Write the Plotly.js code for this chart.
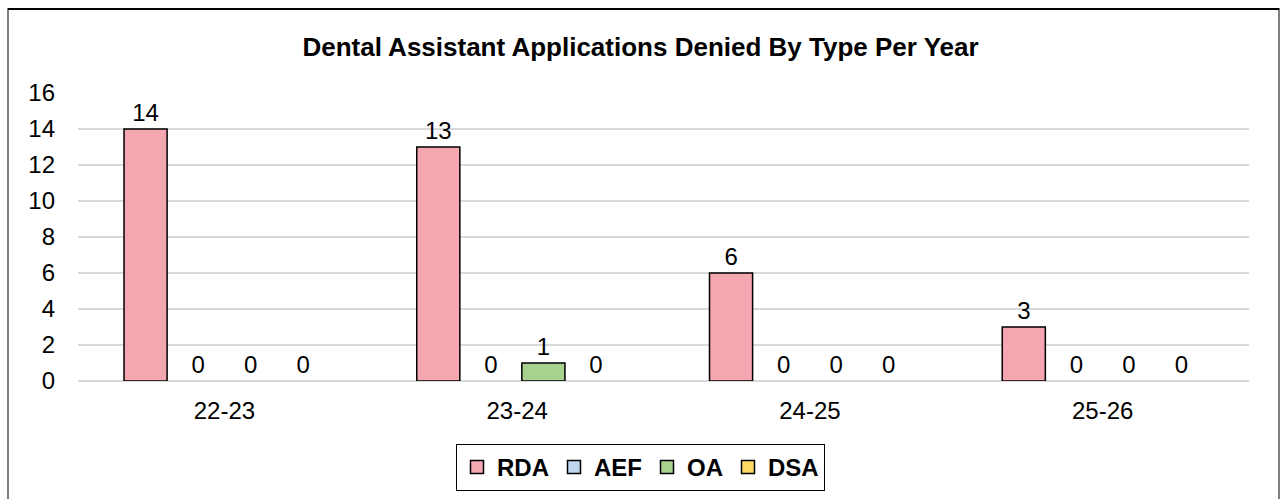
<!DOCTYPE html>
<html>
<head>
<meta charset="utf-8">
<script src="https://cdn.plot.ly/plotly-3.0.1.min.js"></script>
<style>
html,body{margin:0;padding:0;background:#fff;}
#chart{width:1281px;height:499px;}
</style>
</head>
<body>
<div id="chart"></div>
<script>
const categories = ["22-23", "23-24", "24-25", "25-26"];
const rda = [14, 13, 6, 3];
const aef = [0, 0, 0, 0];
const oa = [0, 1, 0, 0];
const dsa = [0, 0, 0, 0];
const seriesNames = ["RDA", "AEF", "OA", "DSA"];
const seriesColors = ["#F4A7B1", "#BDD7EE", "#A9D18E", "#FFD966"];
const seriesValues = [rda, aef, oa, dsa];

const FONT = "Arial, Liberation Sans, sans-serif";

const barTraces = seriesValues.map((vals, i) => ({
  type: "bar",
  name: seriesNames[i],
  x: categories,
  y: vals,
  showlegend: false,
  marker: {
    color: seriesColors[i],
    line: { color: "#000000", width: vals.map(v => v > 0 ? 1.5 : 0) }
  },
  text: vals.map(String),
  textposition: "outside",
  cliponaxis: false,
  textfont: { family: FONT, size: 24, color: "#000" },
  hoverinfo: "x+y+name"
}));

// legend entries (square swatches with black outline)
const legendTraces = seriesNames.map((name, i) => ({
  type: "scatter",
  mode: "markers",
  name: name,
  x: [null],
  y: [null],
  showlegend: true,
  marker: { symbol: "square", size: 13, color: seriesColors[i], line: { color: "#000", width: 1.5 } },
  hoverinfo: "skip"
}));

const layout = {
  width: 1281,
  height: 499,
  paper_bgcolor: "#ffffff",
  plot_bgcolor: "#ffffff",
  margin: { l: 78, r: 32, t: 93, b: 118, autoexpand: false },
  title: {
    text: "<b>Dental Assistant Applications Denied By Type Per Year</b>",
    font: { family: FONT, size: 26, color: "#000" },
    x: 0.5, xanchor: "center",
    y: 1 - 47 / 499, yanchor: "middle"
  },
  barmode: "group",
  bargap: 0.282,
  bargroupgap: 0.18,
  showlegend: true,
  legend: {
    orientation: "h",
    x: (640.5 - 78) / 1171, xanchor: "center",
    y: -0.218, yanchor: "top",
    bordercolor: "#000000",
    borderwidth: 1,
    font: { family: FONT, size: 24, color: "#000", weight: "bold" },
    itemwidth: 30,
    tracegroupgap: 0
  },
  xaxis: {
    type: "category",
    automargin: false,
    tickfont: { family: FONT, size: 24, color: "#000" },
    showgrid: false,
    showline: false,
    ticks: "",
    ticklabelstandoff: 13
  },
  yaxis: {
    range: [0, 16],
    automargin: false,
    dtick: 2,
    tick0: 0,
    showgrid: true,
    gridcolor: "#D9D9D9",
    gridwidth: 2,
    zeroline: true,
    zerolinecolor: "#D9D9D9",
    zerolinewidth: 2,
    showline: false,
    ticks: "",
    tickfont: { family: FONT, size: 24, color: "#000" },
    ticklabelstandoff: 22
  },
  shapes: [
    {
      type: "rect", xref: "paper", yref: "paper",
      x0: (8 - 78) / 1171, x1: (1279 - 78) / 1171,
      y0: -0.5, y1: (381 - 9) / 288,
      line: { color: "#7F7F7F", width: 2 },
      fillcolor: "rgba(0,0,0,0)",
      layer: "below"
    },
    {
      type: "line", xref: "paper", yref: "paper",
      x0: (8 - 78) / 1171, x1: (1279 - 78) / 1171,
      y0: (381 - 9) / 288, y1: (381 - 9) / 288,
      line: { color: "#000000", width: 2 }
    }
  ]
};

Plotly.newPlot("chart", barTraces.concat(legendTraces), layout, { displayModeBar: false, staticPlot: true });
</script>
</body>
</html>
